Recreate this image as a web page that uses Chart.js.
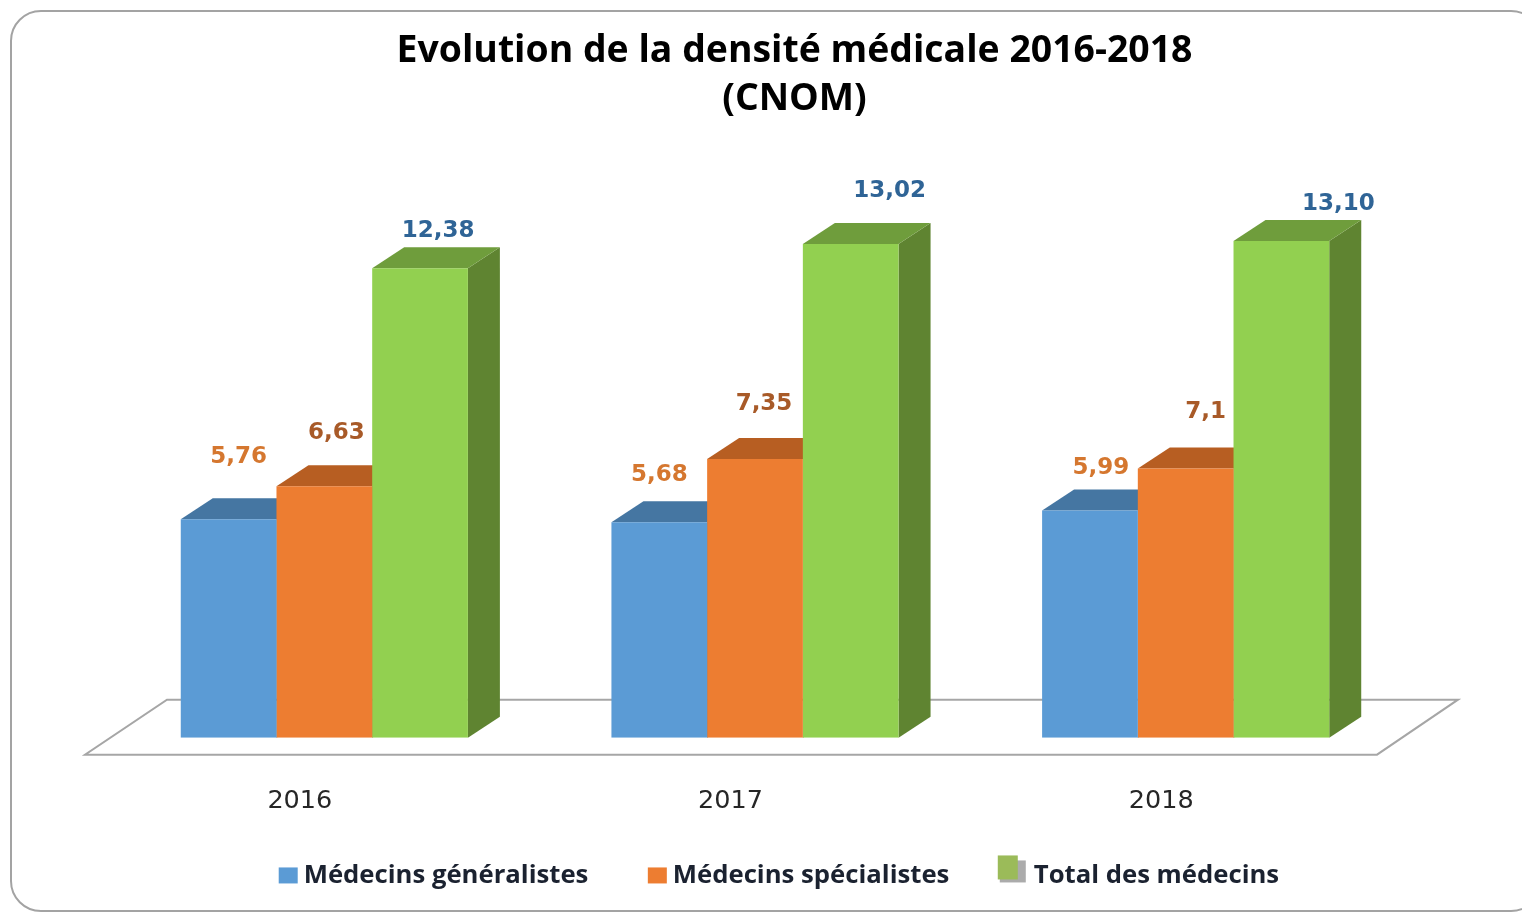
<!DOCTYPE html>
<html lang="fr">
<head>
<meta charset="utf-8">
<title>Evolution de la densité médicale 2016-2018</title>
<script src="https://cdn.jsdelivr.net/npm/chart.js@4/dist/chart.umd.min.js"></script>
<style>
html,body{margin:0;padding:0;background:#fff;overflow:hidden}
canvas{display:block;filter:blur(0.6px)}
</style>
</head>
<body>
<canvas id="c" width="1522" height="913"></canvas>
<script>
const titleLines = ['Evolution de la densité médicale 2016-2018', '(CNOM)'];
const categories = ['2016', '2017', '2018'];
const seriesNames = ['Médecins généralistes', 'Médecins spécialistes', 'Total des médecins'];
const generalistes = [5.76, 5.68, 5.99];
const specialistes = [6.63, 7.35, 7.10];
const total = [12.38, 13.02, 13.10];
const generalistesText = ['5,76', '5,68', '5,99'];
const specialistesText = ['6,63', '7,35', '7,1'];
const totalText = ['12,38', '13,02', '13,10'];

const valueTexts = [generalistesText, specialistesText, totalText];
const labelOffsets = [
  [[10, -62], [0, -47], [11, -43]],
  [[12, -53], [9, -55], [20, -56]],
  [[18, -37], [39, -53], [57, -37]]
];
const labelColors = ['#D5772F', '#A85A28', '#2F6496'];
const frontColors = ['#5B9BD5', '#ED7D31', '#92D050'];
const topColors = ['#4576A2', '#B75E22', '#6F9D3C'];
const sideColors = ['#3C6A94', '#A35420', '#5F8431'];
const depthX = 32, depthY = 21;

const look3d = {
  id: 'look3d',
  afterLayout(chart) {
    const t = chart.titleBlock;
    t.left = 0; t.right = 1589;
    const l = chart.legend;
    l.left = 134; l.right = 1422; l.top = 805;
  },
  beforeDraw(chart) {
    const c = chart.ctx;
    c.save();
    c.strokeStyle = '#A3A3A3';
    c.lineWidth = 2;
    c.beginPath();
    c.roundRect(11, 11, 1530, 900, 30);
    c.stroke();
    c.restore();
  },
  beforeDatasetsDraw(chart) {
    const c = chart.ctx;
    const x = chart.scales.x, y = chart.scales.y;
    const base = y.getPixelForValue(0);
    c.save();
    c.strokeStyle = '#A6A6A6';
    c.lineWidth = 2;
    c.beginPath();
    c.moveTo(x.left + 58, base - 38);
    c.lineTo(x.right + 57, base - 38);
    c.lineTo(x.right - 24, base + 17);
    c.lineTo(x.left - 24, base + 17);
    c.closePath();
    c.stroke();
    chart.data.datasets.forEach((ds, i) => {
      chart.getDatasetMeta(i).data.forEach(bar => {
        const left = bar.x - bar.width / 2, right = bar.x + bar.width / 2, top = bar.y;
        c.fillStyle = sideColors[i];
        c.beginPath();
        c.moveTo(right, top);
        c.lineTo(right + depthX, top - depthY);
        c.lineTo(right + depthX, base - depthY);
        c.lineTo(right, base);
        c.closePath();
        c.fill();
        c.fillStyle = topColors[i];
        c.beginPath();
        c.moveTo(left, top);
        c.lineTo(left + depthX, top - depthY);
        c.lineTo(right + depthX, top - depthY);
        c.lineTo(right, top);
        c.closePath();
        c.fill();
      });
    });
    c.restore();
  },
  afterDatasetsDraw(chart) {
    const c = chart.ctx;
    c.save();
    c.font = 'bold 23px "DejaVu Sans"';
    c.textAlign = 'center';
    c.textBaseline = 'middle';
    chart.data.datasets.forEach((ds, i) => {
      chart.getDatasetMeta(i).data.forEach((bar, j) => {
        c.fillStyle = labelColors[i];
        c.fillText(valueTexts[i][j], bar.x + labelOffsets[i][j][0], bar.y + labelOffsets[i][j][1]);
      });
    });
    c.restore();
  },
  afterDraw(chart) {
    const c = chart.ctx;
    c.save();
    chart.legend.legendHitBoxes.forEach((box, i) => {
      const textX = box.left + 14 + 12.85;
      const cy = box.top + box.height / 2;
      if (i < 2) {
        c.fillStyle = frontColors[i];
        c.fillRect(textX - 25, cy - 8, 19, 16);
      } else {
        c.fillStyle = '#ABABAB';
        c.fillRect(textX - 34, cy - 15, 26, 22);
        c.fillStyle = '#9BBB59';
        c.fillRect(textX - 36, cy - 20, 20, 24);
      }
    });
    c.restore();
  }
};

new Chart(document.getElementById('c'), {
  type: 'bar',
  data: {
    labels: categories,
    datasets: [
      { label: seriesNames[0], data: generalistes, backgroundColor: frontColors[0] },
      { label: seriesNames[1], data: specialistes, backgroundColor: frontColors[1] },
      { label: seriesNames[2], data: total, backgroundColor: frontColors[2] }
    ]
  },
  options: {
    responsive: false,
    animation: false,
    categoryPercentage: 0.6667,
    barPercentage: 1,
    layout: { padding: { left: 109, right: 121, top: 0, bottom: 0 } },
    scales: {
      x: {
        grid: { display: false },
        border: { display: false },
        afterFit(s) { s.height = 82; },
        ticks: { color: '#262626', font: { family: '"DejaVu Sans"', size: 25.5 }, padding: 40, labelOffset: -24.5, maxRotation: 0 }
      },
      y: {
        display: false,
        min: 0,
        max: 16
      }
    },
    plugins: {
      title: {
        display: true,
        text: titleLines,
        color: '#000',
        font: { family: '"Open Sans"', size: 37.4, weight: 'bold', lineHeight: 1.285 },
        padding: { top: 27, bottom: 8 }
      },
      legend: {
        display: true,
        position: 'bottom',
        labels: {
          color: '#1B2230',
          font: { family: '"Open Sans"', size: 25.7, weight: 'bold' },
          boxWidth: 14,
          boxHeight: 14,
          padding: 57.6,
          generateLabels(chart) {
            return chart.data.datasets.map((d, i) => ({
              text: d.label,
              fillStyle: 'transparent',
              strokeStyle: 'transparent',
              lineWidth: 0,
              fontColor: '#1B2230',
              datasetIndex: i
            }));
          }
        }
      },
      tooltip: { enabled: false }
    }
  },
  plugins: [look3d]
});
</script>
</body>
</html>
